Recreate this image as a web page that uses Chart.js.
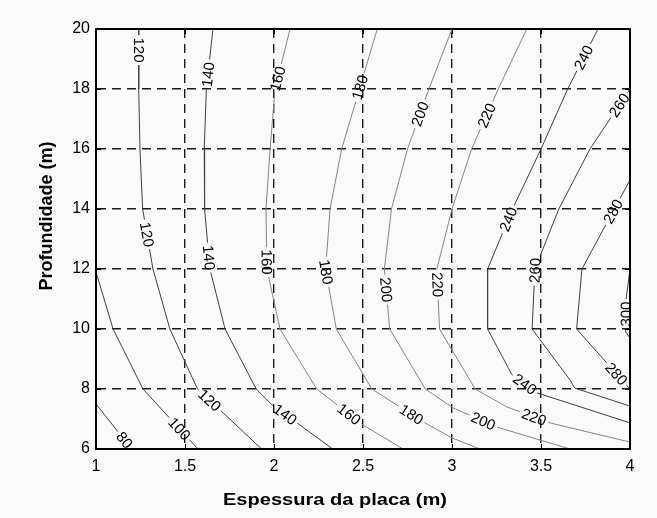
<!DOCTYPE html>
<html>
<head>
<meta charset="utf-8">
<script src="https://cdn.jsdelivr.net/npm/chart.js@4"></script>
<style>
  html, body { margin: 0; padding: 0; background: #fafafa; }
  #wrap { width: 657px; height: 518px; }
</style>
</head>
<body>
<div id="wrap"><canvas id="chart" width="657" height="518"></canvas></div>
<script>
// Contour levels and their polylines, points are [espessura (m), profundidade (m)]
const levels = [80, 100, 120, 140, 160, 180, 200, 220, 240, 260, 280, 300];
const c80  = [[1, 7.5], [1.2, 6]];
const c100 = [[1, 11.9], [1.096, 10], [1.264, 8], [1.573, 6]];
const c120 = [[1.24, 20], [1.24, 18], [1.247, 16], [1.262, 14], [1.32, 12], [1.415, 10], [1.57, 8], [1.685, 7.37], [1.93, 6]];
const c140 = [[1.657, 20], [1.62, 18], [1.608, 16], [1.61, 14], [1.64, 12], [1.725, 10], [1.9, 8], [1.989, 7.47], [2.129, 6.87], [2.33, 6]];
const c160 = [[2.09, 20], [2.006, 18], [1.978, 16], [1.955, 14], [1.96, 12], [2.034, 10], [2.24, 8], [2.5, 6.8], [2.725, 6]];
const c180 = [[2.58, 20], [2.48, 18], [2.38, 16], [2.315, 14], [2.29, 12], [2.35, 10], [2.55, 8], [2.848, 6.87], [3.0, 6.37], [3.157, 6]];
const c200 = [[3.0, 20], [2.87, 18], [2.75, 16], [2.66, 14], [2.62, 12], [2.65, 10], [2.85, 8], [3.006, 7.37], [3.253, 6.73], [3.494, 6.3], [3.663, 6]];
const c220 = [[3.42, 20], [3.26, 18], [3.11, 16], [3.0, 14], [2.915, 12], [2.93, 10], [3.13, 8], [3.309, 7.4], [3.55, 6.87], [4, 6.23]];
const c240 = [[3.82, 20], [3.65, 18], [3.5, 16], [3.34, 14], [3.2, 12], [3.2, 10], [3.337, 8.47], [3.478, 7.87], [4, 6.87]];
const c260 = [[4, 18], [3.775, 16], [3.6, 14], [3.466, 12], [3.45, 10], [3.663, 8.3], [3.69, 8.03], [4, 7.43]];
const c280 = [[4, 14.97], [3.73, 12], [3.7, 10], [4, 8]];
const c300 = [[4, 12], [3.978, 11], [3.976, 9.9], [4, 9.7]];
const contours = [c80, c100, c120, c140, c160, c180, c200, c220, c240, c260, c280, c300];

// inline labels: [level, espessura, profundidade]
const clabels = [
  [120, 1.247, 19.3], [140, 1.65, 18.47], [160, 2.05, 18.3], [180, 2.5, 18.03],
  [200, 2.837, 17.13], [220, 3.213, 17.07], [240, 3.747, 19.03], [260, 3.955, 17.4],
  [120, 1.264, 13.13], [140, 1.612, 12.37], [160, 1.94, 12.23], [180, 2.29, 11.9],
  [200, 2.612, 11.3], [220, 2.893, 11.47], [240, 3.298, 13.7], [260, 3.47, 11.95],
  [280, 3.888, 13.97], [300, 3.975, 10.5],
  [80, 1.146, 6.23], [100, 1.46, 6.63], [120, 1.63, 7.57], [140, 2.06, 7.13],
  [160, 2.41, 7.07], [180, 2.764, 7.07], [200, 3.174, 6.9], [220, 3.455, 6.97],
  [240, 3.393, 8.03], [280, 3.904, 8.4]
];

const xTicks = [1, 1.5, 2, 2.5, 3, 3.5, 4];
const yTicks = [6, 8, 10, 12, 14, 16, 18, 20];

const FONT = '"Liberation Sans", Arial, Helvetica, sans-serif';
const labelFont = '15px ' + FONT;

function lineColor(lv) {
  return (lv >= 160 && lv <= 220) ? '#858585' : '#404040';
}

// place each label on its contour and turn it along the line
function labelBoxes(chart) {
  const xs = chart.scales.x, ys = chart.scales.y;
  const ctx = chart.ctx;
  ctx.save();
  ctx.font = labelFont;
  const boxes = clabels.map(([lv, x, y]) => {
    const pts = contours[levels.indexOf(lv)].map(([a, b]) => [xs.getPixelForValue(a), ys.getPixelForValue(b)]);
    const px = xs.getPixelForValue(x), py = ys.getPixelForValue(y);
    let best = null;
    for (let i = 0; i < pts.length - 1; i++) {
      const [x1, y1] = pts[i], [x2, y2] = pts[i + 1];
      const dx = x2 - x1, dy = y2 - y1;
      let t = ((px - x1) * dx + (py - y1) * dy) / (dx * dx + dy * dy);
      t = Math.max(0, Math.min(1, t));
      const qx = x1 + t * dx, qy = y1 + t * dy;
      const d = (qx - px) ** 2 + (qy - py) ** 2;
      if (!best || d < best.d) best = { d, qx, qy, ang: Math.atan2(dy, dx) };
    }
    let a = best.ang;
    if (a > Math.PI / 2 + 1e-6) a -= Math.PI;
    if (a <= -Math.PI / 2 + 1e-6) a += Math.PI;
    const text = String(lv);
    return { text, cx: best.qx, cy: best.qy, ang: a, w: ctx.measureText(text).width + 5, h: 13 };
  });
  ctx.restore();
  return boxes;
}

const contourLabels = {
  id: 'contourLabels',
  beforeDatasetsDraw(chart) {
    const boxes = chart.$labelBoxes = labelBoxes(chart);
    const { ctx, chartArea: a } = chart;
    ctx.save();
    // cut the label spots out of the lines
    ctx.beginPath();
    ctx.rect(a.left, a.top, a.right - a.left, a.bottom - a.top);
    boxes.forEach(b => {
      const c = Math.cos(b.ang), s = Math.sin(b.ang);
      const hw = b.w / 2, hh = b.h / 2;
      const corners = [[-hw, -hh], [hw, -hh], [hw, hh], [-hw, hh]]
        .map(([u, v]) => [b.cx + u * c - v * s, b.cy + u * s + v * c]);
      ctx.moveTo(corners[0][0], corners[0][1]);
      corners.slice(1).forEach(p => ctx.lineTo(p[0], p[1]));
      ctx.closePath();
    });
    ctx.clip('evenodd');
  },
  afterDatasetsDraw(chart) {
    const { ctx, chartArea: a, scales } = chart;
    ctx.restore();

    ctx.save();
    ctx.font = labelFont;
    ctx.fillStyle = '#000';
    ctx.textAlign = 'center';
    ctx.textBaseline = 'middle';
    chart.$labelBoxes.forEach(b => {
      ctx.save();
      ctx.translate(b.cx, b.cy);
      ctx.rotate(b.ang);
      ctx.fillText(b.text, 0, 1);
      ctx.restore();
    });
    ctx.restore();

    // frame and inward tick marks
    ctx.save();
    ctx.strokeStyle = '#000';
    ctx.lineWidth = 1;
    ctx.beginPath();
    xTicks.forEach(v => {
      const x = Math.round(scales.x.getPixelForValue(v)) + 0.5;
      ctx.moveTo(x, a.bottom); ctx.lineTo(x, a.bottom - 5);
      ctx.moveTo(x, a.top); ctx.lineTo(x, a.top + 5);
    });
    yTicks.forEach(v => {
      const y = Math.round(scales.y.getPixelForValue(v)) + 0.5;
      ctx.moveTo(a.left, y); ctx.lineTo(a.left + 5, y);
      ctx.moveTo(a.right, y); ctx.lineTo(a.right - 5, y);
    });
    ctx.stroke();
    ctx.lineWidth = 2;
    ctx.strokeRect(a.left, a.top, a.right - a.left, a.bottom - a.top);
    ctx.restore();
  },
  afterDraw(chart) {
    const ctx = chart.ctx;
    ctx.save();
    ctx.fillStyle = '#000';
    ctx.textAlign = 'center';
    ctx.textBaseline = 'middle';
    ctx.font = 'bold 17px ' + FONT;
    ctx.translate(335, 500);
    ctx.scale(1.18, 1);
    ctx.fillText('Espessura da placa (m)', 0, 0);
    ctx.restore();

    ctx.save();
    ctx.fillStyle = '#000';
    ctx.textAlign = 'center';
    ctx.textBaseline = 'middle';
    ctx.font = 'bold 18px ' + FONT;
    ctx.translate(47, 216);
    ctx.rotate(-Math.PI / 2);
    ctx.fillText('Profundidade (m)', 0, 0);
    ctx.restore();
  }
};

const datasets = contours.map((pts, i) => ({
  label: String(levels[i]),
  data: pts.map(([x, y]) => ({ x, y })),
  showLine: true,
  borderColor: lineColor(levels[i]),
  borderWidth: 1,
  pointRadius: 0,
  fill: false,
  tension: 0
}));

const gridStyle = { color: '#1a1a1a', lineWidth: 1.4, drawTicks: false };
const borderStyle = { display: true, color: '#000', width: 2, dash: [9, 6] };
const tickFont = { family: FONT, size: 16 };

new Chart(document.getElementById('chart'), {
  type: 'scatter',
  data: { datasets },
  plugins: [contourLabels],
  options: {
    responsive: false,
    animation: false,
    layout: { padding: { top: 29, right: 27, bottom: 0, left: 0 } },
    plugins: { legend: { display: false }, tooltip: { enabled: false } },
    scales: {
      x: {
        type: 'linear',
        min: xTicks[0],
        max: xTicks[xTicks.length - 1],
        afterBuildTicks: s => { s.ticks = xTicks.map(v => ({ value: v })); },
        afterFit: s => { s.height = 69; },
        ticks: { font: tickFont, color: '#000', padding: 8, callback: v => String(v) },
        grid: gridStyle,
        border: borderStyle
      },
      y: {
        type: 'linear',
        min: yTicks[0],
        max: yTicks[yTicks.length - 1],
        afterBuildTicks: s => { s.ticks = yTicks.map(v => ({ value: v })); },
        afterFit: s => { s.width = 96; },
        ticks: { font: tickFont, color: '#000', padding: 6, callback: v => String(v) },
        grid: gridStyle,
        border: borderStyle
      }
    }
  }
});
</script>
</body>
</html>
